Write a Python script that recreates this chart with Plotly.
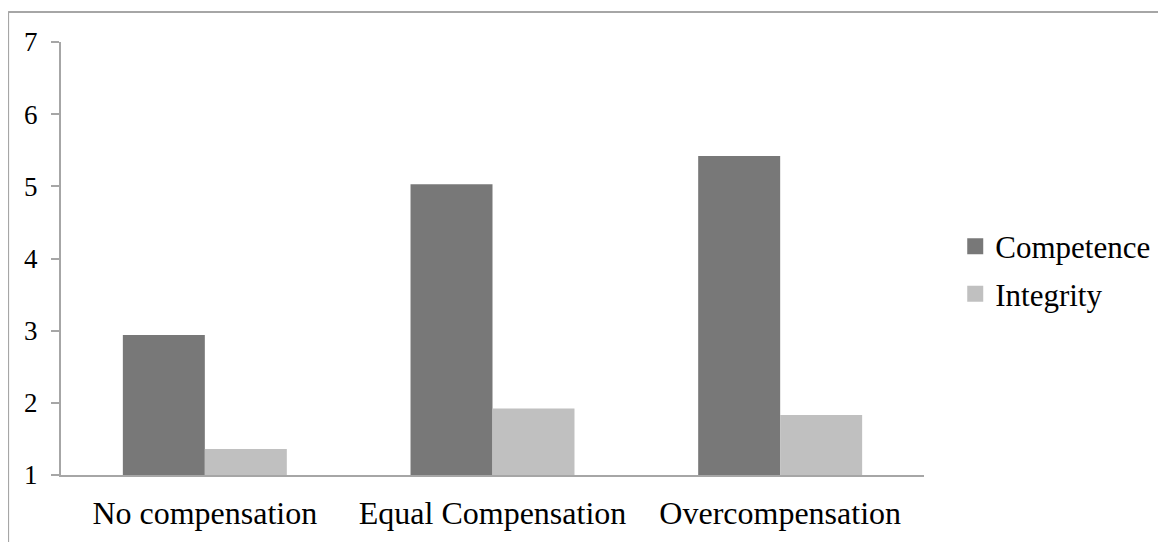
import plotly.graph_objects as go

categories = ["No compensation", "Equal Compensation", "Overcompensation"]
competence = [2.94, 5.03, 5.42]
integrity = [1.36, 1.92, 1.83]
series_names = ["Competence", "Integrity"]
series_colors = ["#787878", "#c0c0c0"]
y_ticks = [1, 2, 3, 4, 5, 6, 7]

FONT = "Liberation Serif, Times New Roman, serif"

fig = go.Figure()
for name, vals, col in zip(series_names, [competence, integrity], series_colors):
    fig.add_trace(go.Bar(x=categories, y=vals, name=name, marker_color=col,
                         marker_line_width=0, showlegend=False))
    # legend swatch
    fig.add_trace(go.Scatter(x=[None], y=[None], mode="markers", name=name,
                             marker=dict(symbol="square", size=16, color=col),
                             showlegend=True, legendgroup=name))

fig.update_layout(
    width=1158, height=534,
    margin=dict(l=53, r=241, t=34, b=67),
    plot_bgcolor="white", paper_bgcolor="white",
    barmode="group", bargap=0.43, bargroupgap=0,
    font=dict(family=FONT, color="black"),
    legend=dict(x=1.035, xanchor="left", y=0.473, yanchor="middle",
                font=dict(size=31, family=FONT), tracegroupgap=4,
                bgcolor="rgba(0,0,0,0)"),
    xaxis=dict(showline=True, linecolor="#a6a6a6", linewidth=2, ticks="",
               tickfont=dict(size=32, family=FONT), showgrid=False,
               ticklabelstandoff=9),
    yaxis=dict(range=[1, 7], tickvals=y_ticks, showline=True, linecolor="#a6a6a6",
               linewidth=2, ticks="outside", ticklen=8, tickcolor="#a6a6a6",
               tickwidth=2, tickfont=dict(size=27, family=FONT), showgrid=False,
               zeroline=False, ticklabelstandoff=8),
)

# outer chart frame (top and left edges visible)
fig.add_shape(type="line", xref="paper", yref="paper", x0=-0.0613, x1=1.35,
              y0=1.069, y1=1.069, line=dict(color="#a6a6a6", width=2))
fig.add_shape(type="line", xref="paper", yref="paper", x0=-0.0613, x1=-0.0613,
              y0=1.069, y1=-0.3, line=dict(color="#a6a6a6", width=2))

fig.write_html("out.html")
